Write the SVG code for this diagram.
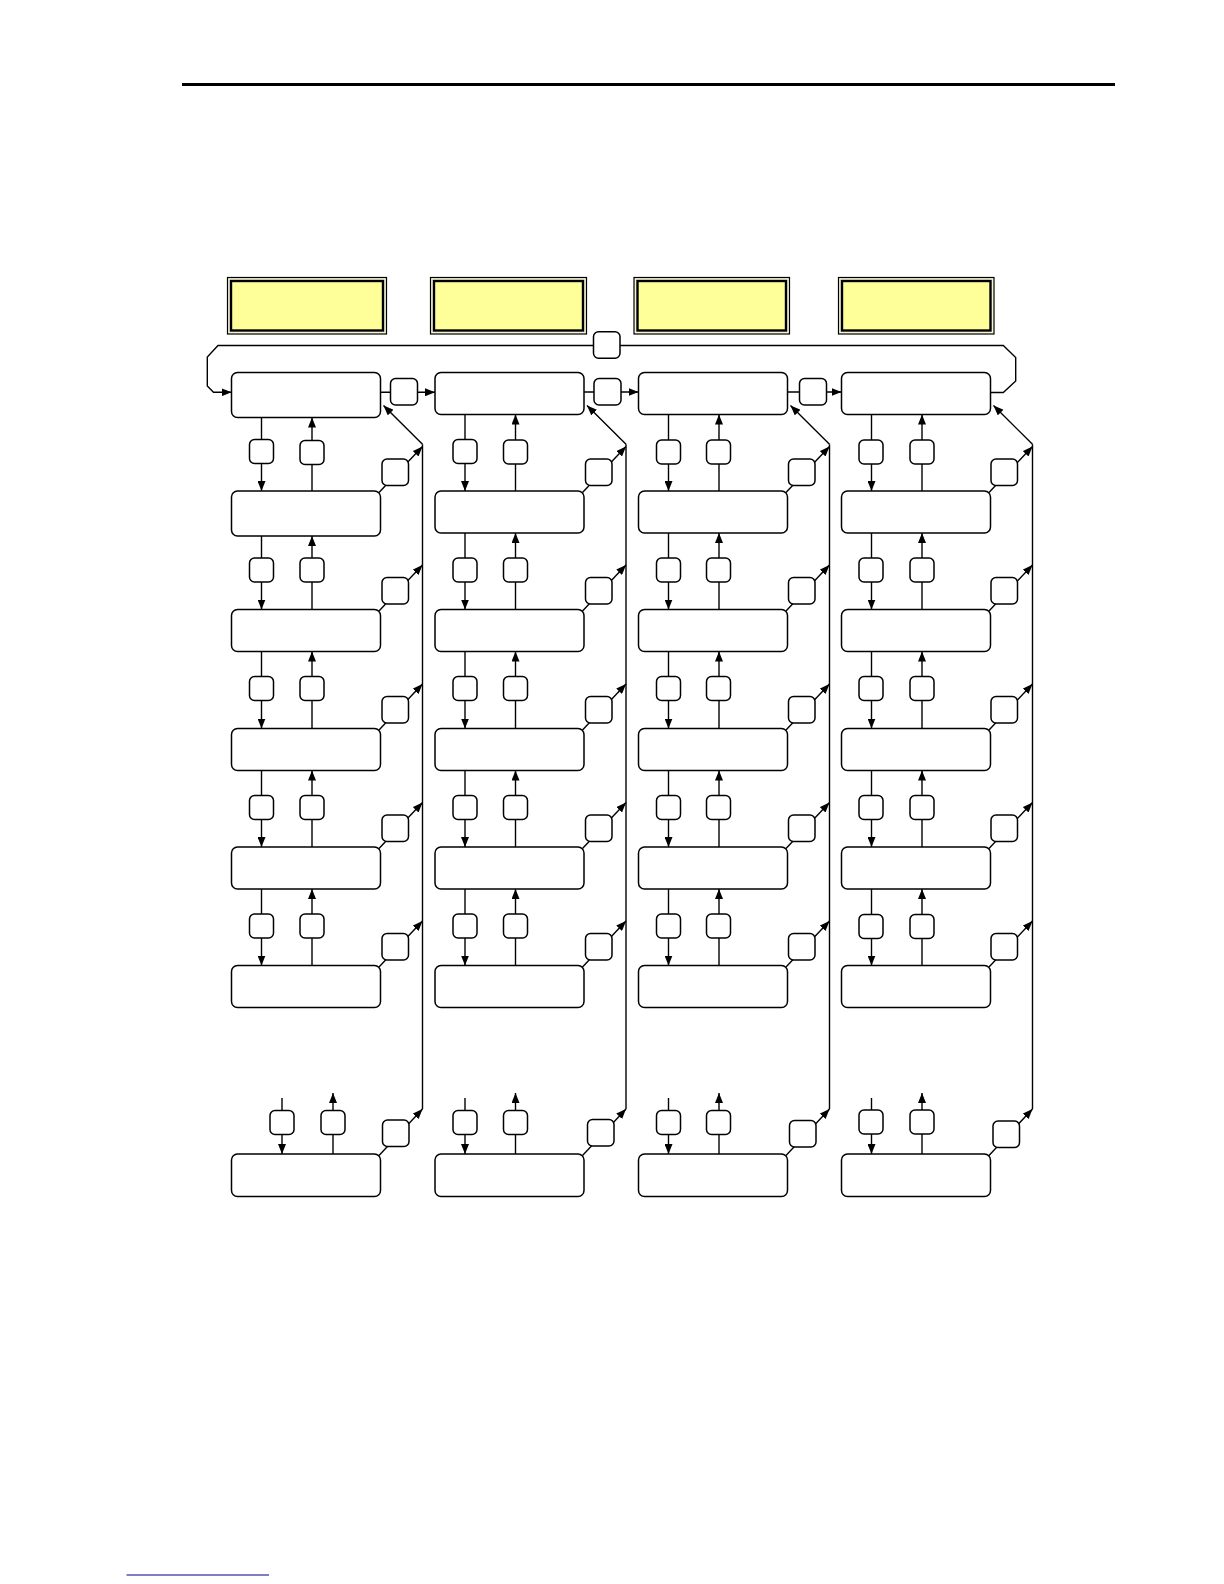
<svg xmlns="http://www.w3.org/2000/svg" width="1224" height="1584" viewBox="0 0 1224 1584">
<style>
.bx{fill:#fff;stroke:#000;stroke-width:1.5}
.sm{fill:#fff;stroke:#000;stroke-width:1.5}
.ln{fill:none;stroke:#000;stroke-width:1.4}
.ar{fill:none;stroke:#000;stroke-width:1.4;marker-end:url(#ah)}
.yo{fill:#f4f4d8;stroke:#000;stroke-width:1.2}
.yi{fill:#ffff99;stroke:#000;stroke-width:2.4}
</style>
<defs>
<marker id="ah" markerUnits="userSpaceOnUse" markerWidth="10" markerHeight="8" viewBox="0 0 10 8" refX="10" refY="4" orient="auto">
<path d="M0,0 L10,4 L0,8 z" fill="#000"/>
</marker>
</defs>
<rect width="1224" height="1584" fill="#fff"/>
<line x1="182" y1="84.5" x2="1115" y2="84.5" stroke="#000" stroke-width="3"/>
<line x1="126.5" y1="1575" x2="269" y2="1575" stroke="#00008b" stroke-width="1.2"/>

<g id="connectors">
<path class="ar" d="M990,392.5 H1003.3 L1015.7,381 V357.5 L1003.3,345.5 H218 L207.3,357 V386 L213.5,392.3 H231.5"/>
<line class="ar" x1="380.5" y1="392.3" x2="435" y2="392.3"/>
<line class="ar" x1="584" y1="392" x2="638.5" y2="392"/>
<line class="ar" x1="787.5" y1="392" x2="841.5" y2="392"/>

<g id="conn-col1" transform="translate(231.5,0)">
<line class="ar" x1="30" y1="417.5" x2="30" y2="491"/>
<line class="ar" x1="30" y1="536" x2="30" y2="609.5"/>
<line class="ar" x1="30" y1="651.5" x2="30" y2="728.5"/>
<line class="ar" x1="30" y1="770.5" x2="30" y2="847"/>
<line class="ar" x1="30" y1="889" x2="30" y2="965.5"/>
<line class="ar" x1="50.5" y1="1098" x2="50.5" y2="1154"/>
<line class="ar" x1="80.5" y1="491" x2="80.5" y2="417.5"/>
<line class="ar" x1="80.5" y1="609.5" x2="80.5" y2="536"/>
<line class="ar" x1="80.5" y1="728.5" x2="80.5" y2="651.5"/>
<line class="ar" x1="80.5" y1="847" x2="80.5" y2="770.5"/>
<line class="ar" x1="80.5" y1="965.5" x2="80.5" y2="889"/>
<line class="ar" x1="101.5" y1="1154" x2="101.5" y2="1093"/>
<line class="ar" x1="147.5" y1="492.5" x2="191" y2="446.5"/>
<line class="ar" x1="147.5" y1="611" x2="191" y2="565"/>
<line class="ar" x1="147.5" y1="730" x2="191" y2="684"/>
<line class="ar" x1="147.5" y1="848.5" x2="191" y2="802.5"/>
<line class="ar" x1="147.5" y1="967" x2="191" y2="921"/>
<line class="ar" x1="147.5" y1="1155.5" x2="191" y2="1109"/>
<line class="ar" x1="191" y1="444.3" x2="152" y2="405.5"/>
<line class="ln" x1="191" y1="444.3" x2="191" y2="1109"/>
</g>

<g id="conn-col2" transform="translate(435,0)">
<line class="ar" x1="30" y1="414.5" x2="30" y2="491"/>
<line class="ar" x1="30" y1="533" x2="30" y2="609.5"/>
<line class="ar" x1="30" y1="651.5" x2="30" y2="728.5"/>
<line class="ar" x1="30" y1="770.5" x2="30" y2="847"/>
<line class="ar" x1="30" y1="889" x2="30" y2="965.5"/>
<line class="ar" x1="30" y1="1098" x2="30" y2="1154"/>
<line class="ar" x1="80.5" y1="491" x2="80.5" y2="414.5"/>
<line class="ar" x1="80.5" y1="609.5" x2="80.5" y2="533"/>
<line class="ar" x1="80.5" y1="728.5" x2="80.5" y2="651.5"/>
<line class="ar" x1="80.5" y1="847" x2="80.5" y2="770.5"/>
<line class="ar" x1="80.5" y1="965.5" x2="80.5" y2="889"/>
<line class="ar" x1="80.5" y1="1154" x2="80.5" y2="1093"/>
<line class="ar" x1="147.5" y1="492.5" x2="191" y2="446.5"/>
<line class="ar" x1="147.5" y1="611" x2="191" y2="565"/>
<line class="ar" x1="147.5" y1="730" x2="191" y2="684"/>
<line class="ar" x1="147.5" y1="848.5" x2="191" y2="802.5"/>
<line class="ar" x1="147.5" y1="967" x2="191" y2="921"/>
<line class="ar" x1="147.5" y1="1155.5" x2="191" y2="1109"/>
<line class="ar" x1="191" y1="444.3" x2="152" y2="405.5"/>
<line class="ln" x1="191" y1="444.3" x2="191" y2="1109"/>
</g>

<g id="conn-col3" transform="translate(638.5,0)">
<line class="ar" x1="30" y1="414.5" x2="30" y2="491"/>
<line class="ar" x1="30" y1="533" x2="30" y2="609.5"/>
<line class="ar" x1="30" y1="651.5" x2="30" y2="728.5"/>
<line class="ar" x1="30" y1="770.5" x2="30" y2="847"/>
<line class="ar" x1="30" y1="889" x2="30" y2="965.5"/>
<line class="ar" x1="30" y1="1098" x2="30" y2="1154"/>
<line class="ar" x1="80.5" y1="491" x2="80.5" y2="414.5"/>
<line class="ar" x1="80.5" y1="609.5" x2="80.5" y2="533"/>
<line class="ar" x1="80.5" y1="728.5" x2="80.5" y2="651.5"/>
<line class="ar" x1="80.5" y1="847" x2="80.5" y2="770.5"/>
<line class="ar" x1="80.5" y1="965.5" x2="80.5" y2="889"/>
<line class="ar" x1="80.5" y1="1154" x2="80.5" y2="1093"/>
<line class="ar" x1="147.5" y1="492.5" x2="191" y2="446.5"/>
<line class="ar" x1="147.5" y1="611" x2="191" y2="565"/>
<line class="ar" x1="147.5" y1="730" x2="191" y2="684"/>
<line class="ar" x1="147.5" y1="848.5" x2="191" y2="802.5"/>
<line class="ar" x1="147.5" y1="967" x2="191" y2="921"/>
<line class="ar" x1="147.5" y1="1155.5" x2="191" y2="1109"/>
<line class="ar" x1="191" y1="444.3" x2="152" y2="405.5"/>
<line class="ln" x1="191" y1="444.3" x2="191" y2="1109"/>
</g>

<g id="conn-col4" transform="translate(841.5,0)">
<line class="ar" x1="30" y1="414.5" x2="30" y2="491"/>
<line class="ar" x1="30" y1="533" x2="30" y2="609.5"/>
<line class="ar" x1="30" y1="651.5" x2="30" y2="728.5"/>
<line class="ar" x1="30" y1="770.5" x2="30" y2="847"/>
<line class="ar" x1="30" y1="889" x2="30" y2="965.5"/>
<line class="ar" x1="30" y1="1098" x2="30" y2="1154"/>
<line class="ar" x1="80.5" y1="491" x2="80.5" y2="414.5"/>
<line class="ar" x1="80.5" y1="609.5" x2="80.5" y2="533"/>
<line class="ar" x1="80.5" y1="728.5" x2="80.5" y2="651.5"/>
<line class="ar" x1="80.5" y1="847" x2="80.5" y2="770.5"/>
<line class="ar" x1="80.5" y1="965.5" x2="80.5" y2="889"/>
<line class="ar" x1="80.5" y1="1154" x2="80.5" y2="1093"/>
<line class="ar" x1="147.5" y1="492.5" x2="191" y2="446.5"/>
<line class="ar" x1="147.5" y1="611" x2="191" y2="565"/>
<line class="ar" x1="147.5" y1="730" x2="191" y2="684"/>
<line class="ar" x1="147.5" y1="848.5" x2="191" y2="802.5"/>
<line class="ar" x1="147.5" y1="967" x2="191" y2="921"/>
<line class="ar" x1="147.5" y1="1155.5" x2="191" y2="1109"/>
<line class="ar" x1="191" y1="444.3" x2="152" y2="405.5"/>
<line class="ln" x1="191" y1="444.3" x2="191" y2="1109"/>
</g>
</g>

<g id="headers">
<g id="hdr1"><rect class="yo" x="227.5" y="277.5" width="159" height="56.5"/><rect class="yi" x="231" y="281" width="152" height="49.5"/></g>
<g id="hdr2"><rect class="yo" x="430.5" y="277.5" width="156" height="56.5"/><rect class="yi" x="434" y="281" width="149" height="49.5"/></g>
<g id="hdr3"><rect class="yo" x="634" y="277.5" width="155.5" height="56.5"/><rect class="yi" x="637.5" y="281" width="148.5" height="49.5"/></g>
<g id="hdr4"><rect class="yo" x="838.5" y="277.5" width="155.5" height="56.5"/><rect class="yi" x="842" y="281" width="148.5" height="49.5"/></g>
</g>

<g id="link-nodes">
<g id="loop-box"><rect class="sm" x="593.5" y="331.8" width="26.5" height="26.5" rx="5"/></g>
<g id="link12"><rect class="sm" x="390.5" y="378.5" width="27" height="26.5" rx="5"/></g>
<g id="link23"><rect class="sm" x="594" y="378.5" width="27" height="26.5" rx="5"/></g>
<g id="link34"><rect class="sm" x="799.5" y="378.5" width="27" height="26.5" rx="5"/></g>
</g>

<g id="col1" transform="translate(231.5,0)">
<g id="c1-b0"><rect class="bx" x="0" y="372.5" width="149" height="45" rx="6"/></g>
<g id="c1-b1"><rect class="bx" x="0" y="491" width="149" height="45" rx="6"/></g>
<g id="c1-b2"><rect class="bx" x="0" y="609.5" width="149" height="42" rx="6"/></g>
<g id="c1-b3"><rect class="bx" x="0" y="728.5" width="149" height="42" rx="6"/></g>
<g id="c1-b4"><rect class="bx" x="0" y="847" width="149" height="42" rx="6"/></g>
<g id="c1-b5"><rect class="bx" x="0" y="965.5" width="149" height="42" rx="6"/></g>
<g id="c1-b6"><rect class="bx" x="0" y="1154" width="149" height="42.5" rx="6"/></g>
<g id="c1-d0"><rect class="sm" x="18" y="439.5" width="24" height="24" rx="5"/></g>
<g id="c1-d1"><rect class="sm" x="18" y="558" width="24" height="24" rx="5"/></g>
<g id="c1-d2"><rect class="sm" x="18" y="676.5" width="24" height="24" rx="5"/></g>
<g id="c1-d3"><rect class="sm" x="18" y="795.5" width="24" height="24" rx="5"/></g>
<g id="c1-d4"><rect class="sm" x="18" y="914" width="24" height="24" rx="5"/></g>
<g id="c1-d5"><rect class="sm" x="38.5" y="1110.5" width="24" height="24" rx="5"/></g>
<g id="c1-u0"><rect class="sm" x="68.5" y="440.5" width="24" height="24" rx="5"/></g>
<g id="c1-u1"><rect class="sm" x="68.5" y="558" width="24" height="24" rx="5"/></g>
<g id="c1-u2"><rect class="sm" x="68.5" y="676.5" width="24" height="24" rx="5"/></g>
<g id="c1-u3"><rect class="sm" x="68.5" y="795.5" width="24" height="24" rx="5"/></g>
<g id="c1-u4"><rect class="sm" x="68.5" y="914" width="24" height="24" rx="5"/></g>
<g id="c1-u5"><rect class="sm" x="89.5" y="1110.5" width="24" height="24" rx="5"/></g>
<g id="c1-r0"><rect class="sm" x="150.5" y="459" width="26.5" height="26.5" rx="5"/></g>
<g id="c1-r1"><rect class="sm" x="150.5" y="577.5" width="26.5" height="26.5" rx="5"/></g>
<g id="c1-r2"><rect class="sm" x="150.5" y="696.5" width="26.5" height="26.5" rx="5"/></g>
<g id="c1-r3"><rect class="sm" x="150.5" y="815" width="26.5" height="26.5" rx="5"/></g>
<g id="c1-r4"><rect class="sm" x="150.5" y="933.5" width="26.5" height="26.5" rx="5"/></g>
<g id="c1-r5"><rect class="sm" x="151" y="1120" width="26.5" height="26.5" rx="5"/></g>
</g>

<g id="col2" transform="translate(435,0)">
<g id="c2-b0"><rect class="bx" x="0" y="372.5" width="149" height="42" rx="6"/></g>
<g id="c2-b1"><rect class="bx" x="0" y="491" width="149" height="42" rx="6"/></g>
<g id="c2-b2"><rect class="bx" x="0" y="609.5" width="149" height="42" rx="6"/></g>
<g id="c2-b3"><rect class="bx" x="0" y="728.5" width="149" height="42" rx="6"/></g>
<g id="c2-b4"><rect class="bx" x="0" y="847" width="149" height="42" rx="6"/></g>
<g id="c2-b5"><rect class="bx" x="0" y="965.5" width="149" height="42" rx="6"/></g>
<g id="c2-b6"><rect class="bx" x="0" y="1154" width="149" height="42.5" rx="6"/></g>
<g id="c2-d0"><rect class="sm" x="18" y="439.5" width="24" height="24" rx="5"/></g>
<g id="c2-d1"><rect class="sm" x="18" y="558" width="24" height="24" rx="5"/></g>
<g id="c2-d2"><rect class="sm" x="18" y="676.5" width="24" height="24" rx="5"/></g>
<g id="c2-d3"><rect class="sm" x="18" y="795.5" width="24" height="24" rx="5"/></g>
<g id="c2-d4"><rect class="sm" x="18" y="914" width="24" height="24" rx="5"/></g>
<g id="c2-d5"><rect class="sm" x="18" y="1110.5" width="24" height="24" rx="5"/></g>
<g id="c2-u0"><rect class="sm" x="68.5" y="440" width="24" height="24" rx="5"/></g>
<g id="c2-u1"><rect class="sm" x="68.5" y="558" width="24" height="24" rx="5"/></g>
<g id="c2-u2"><rect class="sm" x="68.5" y="676.5" width="24" height="24" rx="5"/></g>
<g id="c2-u3"><rect class="sm" x="68.5" y="795.5" width="24" height="24" rx="5"/></g>
<g id="c2-u4"><rect class="sm" x="68.5" y="914" width="24" height="24" rx="5"/></g>
<g id="c2-u5"><rect class="sm" x="68.5" y="1110.5" width="24" height="24" rx="5"/></g>
<g id="c2-r0"><rect class="sm" x="150.5" y="459" width="26.5" height="26.5" rx="5"/></g>
<g id="c2-r1"><rect class="sm" x="150.5" y="577.5" width="26.5" height="26.5" rx="5"/></g>
<g id="c2-r2"><rect class="sm" x="150.5" y="696.5" width="26.5" height="26.5" rx="5"/></g>
<g id="c2-r3"><rect class="sm" x="150.5" y="815" width="26.5" height="26.5" rx="5"/></g>
<g id="c2-r4"><rect class="sm" x="150.5" y="933.5" width="26.5" height="26.5" rx="5"/></g>
<g id="c2-r5"><rect class="sm" x="152.5" y="1119.5" width="26.5" height="26.5" rx="5"/></g>
</g>

<g id="col3" transform="translate(638.5,0)">
<g id="c3-b0"><rect class="bx" x="0" y="372.5" width="149" height="42" rx="6"/></g>
<g id="c3-b1"><rect class="bx" x="0" y="491" width="149" height="42" rx="6"/></g>
<g id="c3-b2"><rect class="bx" x="0" y="609.5" width="149" height="42" rx="6"/></g>
<g id="c3-b3"><rect class="bx" x="0" y="728.5" width="149" height="42" rx="6"/></g>
<g id="c3-b4"><rect class="bx" x="0" y="847" width="149" height="42" rx="6"/></g>
<g id="c3-b5"><rect class="bx" x="0" y="965.5" width="149" height="42" rx="6"/></g>
<g id="c3-b6"><rect class="bx" x="0" y="1154" width="149" height="42.5" rx="6"/></g>
<g id="c3-d0"><rect class="sm" x="18" y="440" width="24" height="24" rx="5"/></g>
<g id="c3-d1"><rect class="sm" x="18" y="558" width="24" height="24" rx="5"/></g>
<g id="c3-d2"><rect class="sm" x="18" y="676.5" width="24" height="24" rx="5"/></g>
<g id="c3-d3"><rect class="sm" x="18" y="795.5" width="24" height="24" rx="5"/></g>
<g id="c3-d4"><rect class="sm" x="18" y="914" width="24" height="24" rx="5"/></g>
<g id="c3-d5"><rect class="sm" x="18" y="1110.5" width="24" height="24" rx="5"/></g>
<g id="c3-u0"><rect class="sm" x="68" y="440" width="24" height="24" rx="5"/></g>
<g id="c3-u1"><rect class="sm" x="68" y="558" width="24" height="24" rx="5"/></g>
<g id="c3-u2"><rect class="sm" x="68" y="676.5" width="24" height="24" rx="5"/></g>
<g id="c3-u3"><rect class="sm" x="68" y="795.5" width="24" height="24" rx="5"/></g>
<g id="c3-u4"><rect class="sm" x="68" y="914" width="24" height="24" rx="5"/></g>
<g id="c3-u5"><rect class="sm" x="68" y="1110.5" width="24" height="24" rx="5"/></g>
<g id="c3-r0"><rect class="sm" x="150" y="459" width="26.5" height="26.5" rx="5"/></g>
<g id="c3-r1"><rect class="sm" x="150" y="577.5" width="26.5" height="26.5" rx="5"/></g>
<g id="c3-r2"><rect class="sm" x="150" y="696.5" width="26.5" height="26.5" rx="5"/></g>
<g id="c3-r3"><rect class="sm" x="150" y="815" width="26.5" height="26.5" rx="5"/></g>
<g id="c3-r4"><rect class="sm" x="150" y="933.5" width="26.5" height="26.5" rx="5"/></g>
<g id="c3-r5"><rect class="sm" x="151" y="1120.5" width="26.5" height="26.5" rx="5"/></g>
</g>

<g id="col4" transform="translate(841.5,0)">
<g id="c4-b0"><rect class="bx" x="0" y="372.5" width="149" height="42" rx="6"/></g>
<g id="c4-b1"><rect class="bx" x="0" y="491" width="149" height="42" rx="6"/></g>
<g id="c4-b2"><rect class="bx" x="0" y="609.5" width="149" height="42" rx="6"/></g>
<g id="c4-b3"><rect class="bx" x="0" y="728.5" width="149" height="42" rx="6"/></g>
<g id="c4-b4"><rect class="bx" x="0" y="847" width="149" height="42" rx="6"/></g>
<g id="c4-b5"><rect class="bx" x="0" y="965.5" width="149" height="42" rx="6"/></g>
<g id="c4-b6"><rect class="bx" x="0" y="1154" width="149" height="42.5" rx="6"/></g>
<g id="c4-d0"><rect class="sm" x="17.5" y="440" width="24" height="24" rx="5"/></g>
<g id="c4-d1"><rect class="sm" x="17.5" y="558" width="24" height="24" rx="5"/></g>
<g id="c4-d2"><rect class="sm" x="17.5" y="676.5" width="24" height="24" rx="5"/></g>
<g id="c4-d3"><rect class="sm" x="17.5" y="795.5" width="24" height="24" rx="5"/></g>
<g id="c4-d4"><rect class="sm" x="17.5" y="914.5" width="24" height="24" rx="5"/></g>
<g id="c4-d5"><rect class="sm" x="17.5" y="1110" width="24" height="24" rx="5"/></g>
<g id="c4-u0"><rect class="sm" x="68.5" y="440" width="24" height="24" rx="5"/></g>
<g id="c4-u1"><rect class="sm" x="68.5" y="558" width="24" height="24" rx="5"/></g>
<g id="c4-u2"><rect class="sm" x="68.5" y="676.5" width="24" height="24" rx="5"/></g>
<g id="c4-u3"><rect class="sm" x="68.5" y="795.5" width="24" height="24" rx="5"/></g>
<g id="c4-u4"><rect class="sm" x="68.5" y="914.5" width="24" height="24" rx="5"/></g>
<g id="c4-u5"><rect class="sm" x="68.5" y="1110" width="24" height="24" rx="5"/></g>
<g id="c4-r0"><rect class="sm" x="149.5" y="459" width="26.5" height="26.5" rx="5"/></g>
<g id="c4-r1"><rect class="sm" x="149.5" y="577.5" width="26.5" height="26.5" rx="5"/></g>
<g id="c4-r2"><rect class="sm" x="149.5" y="696.5" width="26.5" height="26.5" rx="5"/></g>
<g id="c4-r3"><rect class="sm" x="149.5" y="815" width="26.5" height="26.5" rx="5"/></g>
<g id="c4-r4"><rect class="sm" x="149.5" y="933.5" width="26.5" height="26.5" rx="5"/></g>
<g id="c4-r5"><rect class="sm" x="151.5" y="1121" width="26.5" height="26.5" rx="5"/></g>
</g>
</svg>
